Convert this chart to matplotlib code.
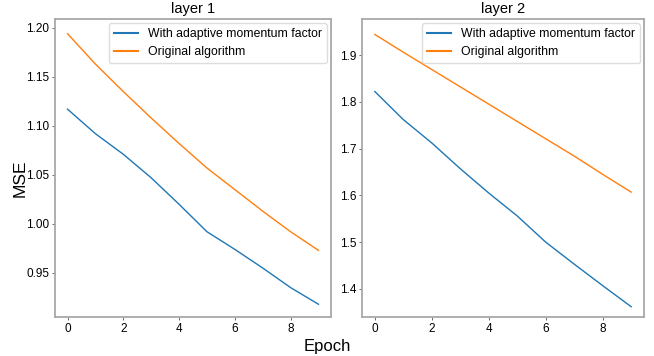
import matplotlib
matplotlib.use("Agg")
from matplotlib import pyplot as plt

plt.rcParams['font.family'] = ['Liberation Sans', 'DejaVu Sans']

epochs = list(range(10))

# layer 1
l1_adaptive = [1.117, 1.092, 1.071, 1.047, 1.020, 0.992, 0.974, 0.955, 0.935, 0.918]
l1_original = [1.194, 1.163, 1.135, 1.108, 1.082, 1.057, 1.035, 1.013, 0.992, 0.973]

# layer 2
l2_adaptive = [1.822, 1.762, 1.712, 1.657, 1.605, 1.556, 1.500, 1.453, 1.407, 1.362]
l2_original = [1.944, 1.906, 1.869, 1.832, 1.795, 1.758, 1.721, 1.684, 1.645, 1.607]

titles = ["layer 1", "layer 2"]
labels = ["With adaptive momentum factor", "Original algorithm"]

fig = plt.figure(figsize=(6.54, 3.56), dpi=100)
W, H = 654, 356
ax1 = fig.add_axes([55 / W, 39 / H, 276 / W, 298 / H])
ax2 = fig.add_axes([362 / W, 39 / H, 282 / W, 298 / H])

data = [(l1_adaptive, l1_original), (l2_adaptive, l2_original)]
for ax, title, (a, o) in zip([ax1, ax2], titles, data):
    ax.plot(epochs, a, color="#1f77b4", lw=1.0, label=labels[0])
    ax.plot(epochs, o, color="#ff7f0e", lw=1.0, label=labels[1])
    ax.set_title(title, fontsize=10.5, pad=4)
    for s in ax.spines.values():
        s.set_color("#a8a8a8")
        s.set_linewidth(1.3)
    ax.tick_params(labelsize=8.5, length=2, width=0.6, color="#555555", pad=2)
    ax.set_xticks([0, 2, 4, 6, 8])
    leg = ax.legend(loc="upper right", fontsize=8.8, handlelength=2.0,
                    borderaxespad=0.35, framealpha=1, edgecolor="#dddddd")
    for h in leg.get_lines():
        h.set_linewidth(1.5)

ax1.set_ylim(0.905, 1.209)
ax1.set_yticks([0.95, 1.00, 1.05, 1.10, 1.15, 1.20])
ax1.set_yticklabels(["0.95", "1.00", "1.05", "1.10", "1.15", "1.20"])
ax2.set_ylim(1.34, 1.977)
ax2.set_yticks([1.4, 1.5, 1.6, 1.7, 1.8, 1.9])

fig.text(20 / W, 0.5, "MSE", rotation=90, fontsize=12.5, va="center", ha="center")
fig.text(0.5, 10 / H, "Epoch", fontsize=12, ha="center", va="center")

fig.savefig("out.png", dpi=100)
